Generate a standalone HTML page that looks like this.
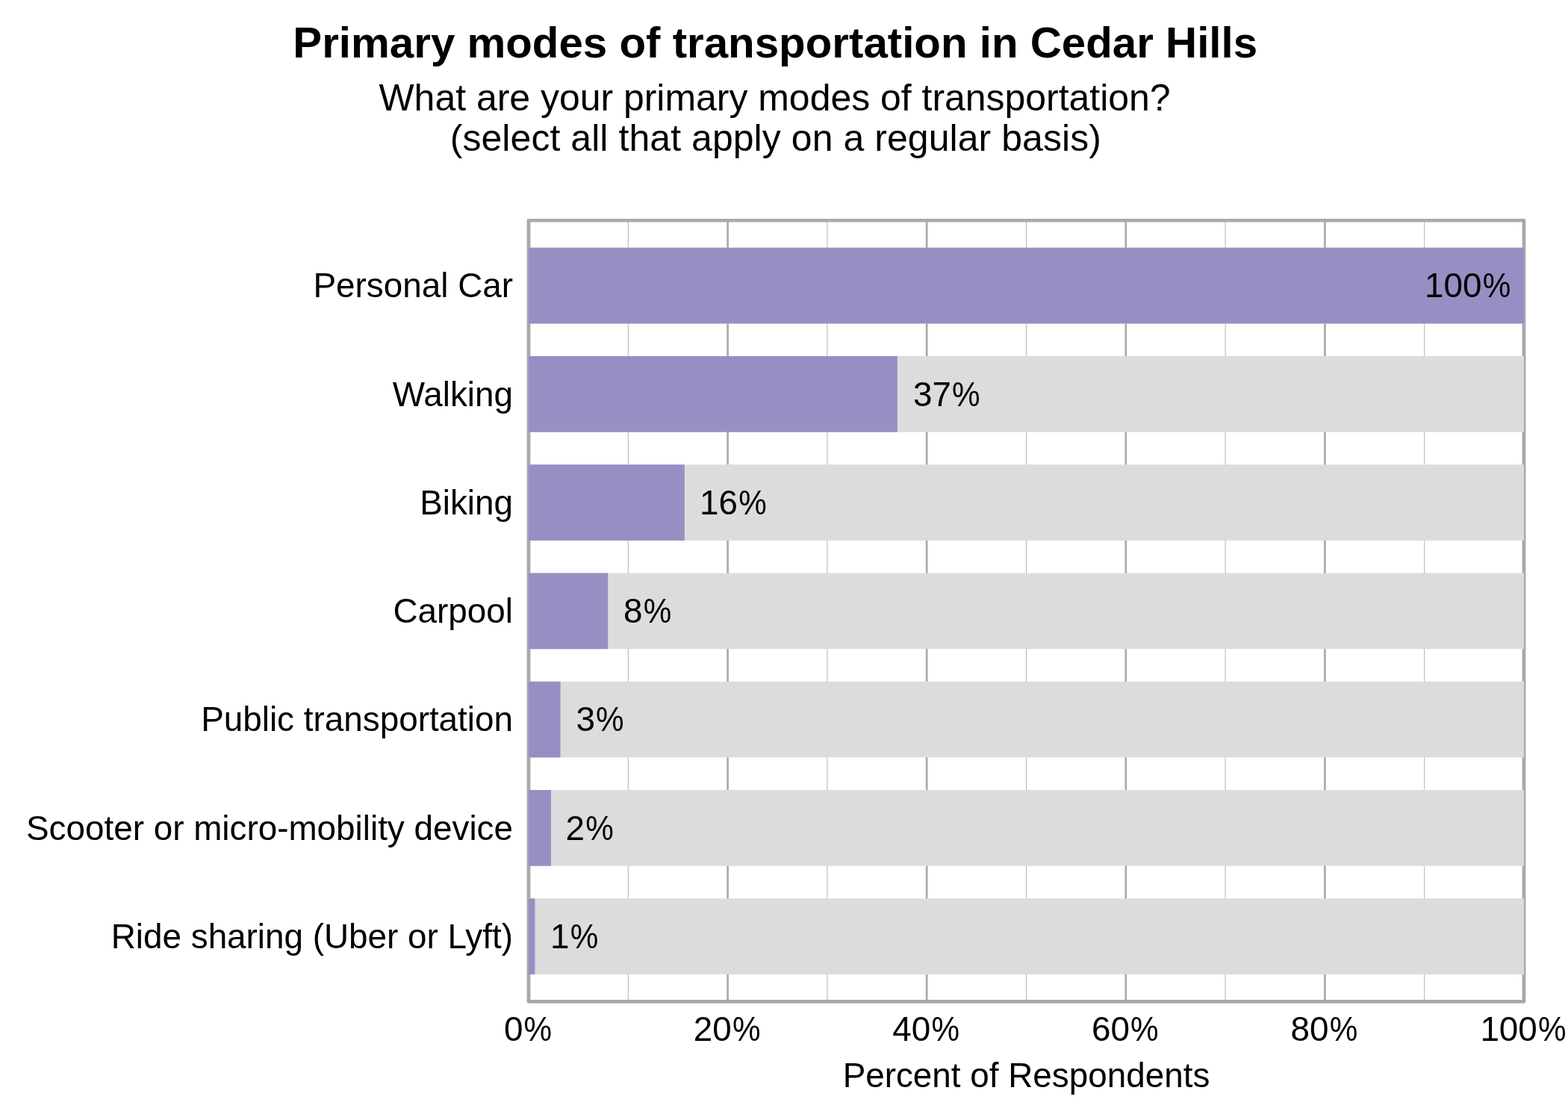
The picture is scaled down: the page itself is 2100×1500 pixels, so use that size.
<!DOCTYPE html>
<html lang="en">
<head>
<meta charset="utf-8">
<title>Primary modes of transportation in Cedar Hills</title>
<style>
html,body{margin:0;padding:0;background:#fff;}
body{width:2100px;height:1500px;overflow:hidden;}
svg{display:block;}
text{font-family:"Liberation Sans",sans-serif;fill:#000;}
.title{font-weight:bold;font-size:58.27px;}
.sub{font-size:50px;}
.ax{font-size:45.83px;}
</style>
</head>
<body>
<svg width="2100" height="1500" viewBox="0 0 2100 1500">
<rect x="0" y="0" width="2100" height="1500" fill="#ffffff"/>
<!-- title and subtitle -->
<text class="title" x="1038.2" y="77" text-anchor="middle">Primary modes of transportation in Cedar Hills</text>
<text class="sub" x="1037.55" y="147.8" text-anchor="middle" style="letter-spacing:-0.03px">What are your primary modes of transportation?</text>
<text class="sub" x="1038.85" y="201.8" text-anchor="middle" style="letter-spacing:0.055px">(select all that apply on a regular basis)</text>
<!-- panel background, gridlines, border -->
<rect x="708.0" y="295.1" width="1333.0" height="1046.20" fill="#fff" stroke="#a9a9a9" stroke-width="4.45" stroke-linejoin="round"/>
<g stroke="#a9a9a9" fill="none">
<line x1="841.30" y1="295.1" x2="841.30" y2="1341.3" stroke-width="0.9"/>
<line x1="1107.90" y1="295.1" x2="1107.90" y2="1341.3" stroke-width="0.9"/>
<line x1="1374.50" y1="295.1" x2="1374.50" y2="1341.3" stroke-width="0.9"/>
<line x1="1641.10" y1="295.1" x2="1641.10" y2="1341.3" stroke-width="0.9"/>
<line x1="1907.70" y1="295.1" x2="1907.70" y2="1341.3" stroke-width="0.9"/>
<line x1="708.00" y1="295.1" x2="708.00" y2="1341.3" stroke-width="2.67"/>
<line x1="974.60" y1="295.1" x2="974.60" y2="1341.3" stroke-width="2.67"/>
<line x1="1241.20" y1="295.1" x2="1241.20" y2="1341.3" stroke-width="2.67"/>
<line x1="1507.80" y1="295.1" x2="1507.80" y2="1341.3" stroke-width="2.67"/>
<line x1="1774.40" y1="295.1" x2="1774.40" y2="1341.3" stroke-width="2.67"/>
<line x1="2041.00" y1="295.1" x2="2041.00" y2="1341.3" stroke-width="2.67"/>
</g>
<rect x="708.0" y="295.1" width="1333.0" height="1046.20" fill="none" stroke="#a9a9a9" stroke-width="4.45" stroke-linejoin="round"/>
<!-- bars, category labels, value labels -->
<rect x="708.0" y="331.72" width="1333.0" height="101.68" fill="#dcdcdc"/>
<rect x="708.0" y="331.72" width="1333.00" height="101.68" fill="#998ec3"/>
<text class="ax" x="687" y="398" text-anchor="end">Personal Car</text>
<text class="ax" x="1908.00" y="398">100<tspan dx="1.2" textLength="37.6" lengthAdjust="spacingAndGlyphs">%</tspan></text>
<rect x="708.0" y="476.98" width="1333.0" height="101.68" fill="#dcdcdc"/>
<rect x="708.0" y="476.98" width="493.88" height="101.68" fill="#998ec3"/>
<text class="ax" x="687" y="544" text-anchor="end">Walking</text>
<text class="ax" x="1222.90" y="544">37<tspan dx="1.2" textLength="37.6" lengthAdjust="spacingAndGlyphs">%</tspan></text>
<rect x="708.0" y="622.24" width="1333.0" height="101.68" fill="#dcdcdc"/>
<rect x="708.0" y="622.24" width="208.80" height="101.68" fill="#998ec3"/>
<text class="ax" x="687" y="689" text-anchor="end">Biking</text>
<text class="ax" x="936.95" y="689">16<tspan dx="1.2" textLength="37.6" lengthAdjust="spacingAndGlyphs">%</tspan></text>
<rect x="708.0" y="767.51" width="1333.0" height="101.68" fill="#dcdcdc"/>
<rect x="708.0" y="767.51" width="106.24" height="101.68" fill="#998ec3"/>
<text class="ax" x="687" y="834" text-anchor="end">Carpool</text>
<text class="ax" x="834.97" y="834">8<tspan dx="1.2" textLength="37.6" lengthAdjust="spacingAndGlyphs">%</tspan></text>
<rect x="708.0" y="912.77" width="1333.0" height="101.68" fill="#dcdcdc"/>
<rect x="708.0" y="912.77" width="42.56" height="101.68" fill="#998ec3"/>
<text class="ax" x="687" y="979" text-anchor="end">Public transportation</text>
<text class="ax" x="771.40" y="979">3<tspan dx="1.2" textLength="37.6" lengthAdjust="spacingAndGlyphs">%</tspan></text>
<rect x="708.0" y="1058.04" width="1333.0" height="101.68" fill="#dcdcdc"/>
<rect x="708.0" y="1058.04" width="29.99" height="101.68" fill="#998ec3"/>
<text class="ax" x="687" y="1125" text-anchor="end">Scooter or micro-mobility device</text>
<text class="ax" x="757.60" y="1125">2<tspan dx="1.2" textLength="37.6" lengthAdjust="spacingAndGlyphs">%</tspan></text>
<rect x="708.0" y="1203.30" width="1333.0" height="101.68" fill="#dcdcdc"/>
<rect x="708.0" y="1203.30" width="8.40" height="101.68" fill="#998ec3"/>
<text class="ax" x="687" y="1270" text-anchor="end">Ride sharing (Uber or Lyft)</text>
<text class="ax" x="737.00" y="1270">1<tspan dx="1.2" textLength="37.6" lengthAdjust="spacingAndGlyphs">%</tspan></text>
<!-- x axis -->
<text class="ax" x="674.88" y="1394">0<tspan dx="1.2" textLength="37.6" lengthAdjust="spacingAndGlyphs">%</tspan></text>
<text class="ax" x="928.73" y="1394">20<tspan dx="1.2" textLength="37.6" lengthAdjust="spacingAndGlyphs">%</tspan></text>
<text class="ax" x="1195.33" y="1394">40<tspan dx="1.2" textLength="37.6" lengthAdjust="spacingAndGlyphs">%</tspan></text>
<text class="ax" x="1461.93" y="1394">60<tspan dx="1.2" textLength="37.6" lengthAdjust="spacingAndGlyphs">%</tspan></text>
<text class="ax" x="1728.53" y="1394">80<tspan dx="1.2" textLength="37.6" lengthAdjust="spacingAndGlyphs">%</tspan></text>
<text class="ax" x="1982.39" y="1394">100<tspan dx="1.2" textLength="37.6" lengthAdjust="spacingAndGlyphs">%</tspan></text>
<text class="ax" x="1374.5" y="1456" text-anchor="middle">Percent of Respondents</text>
</svg>
</body>
</html>
